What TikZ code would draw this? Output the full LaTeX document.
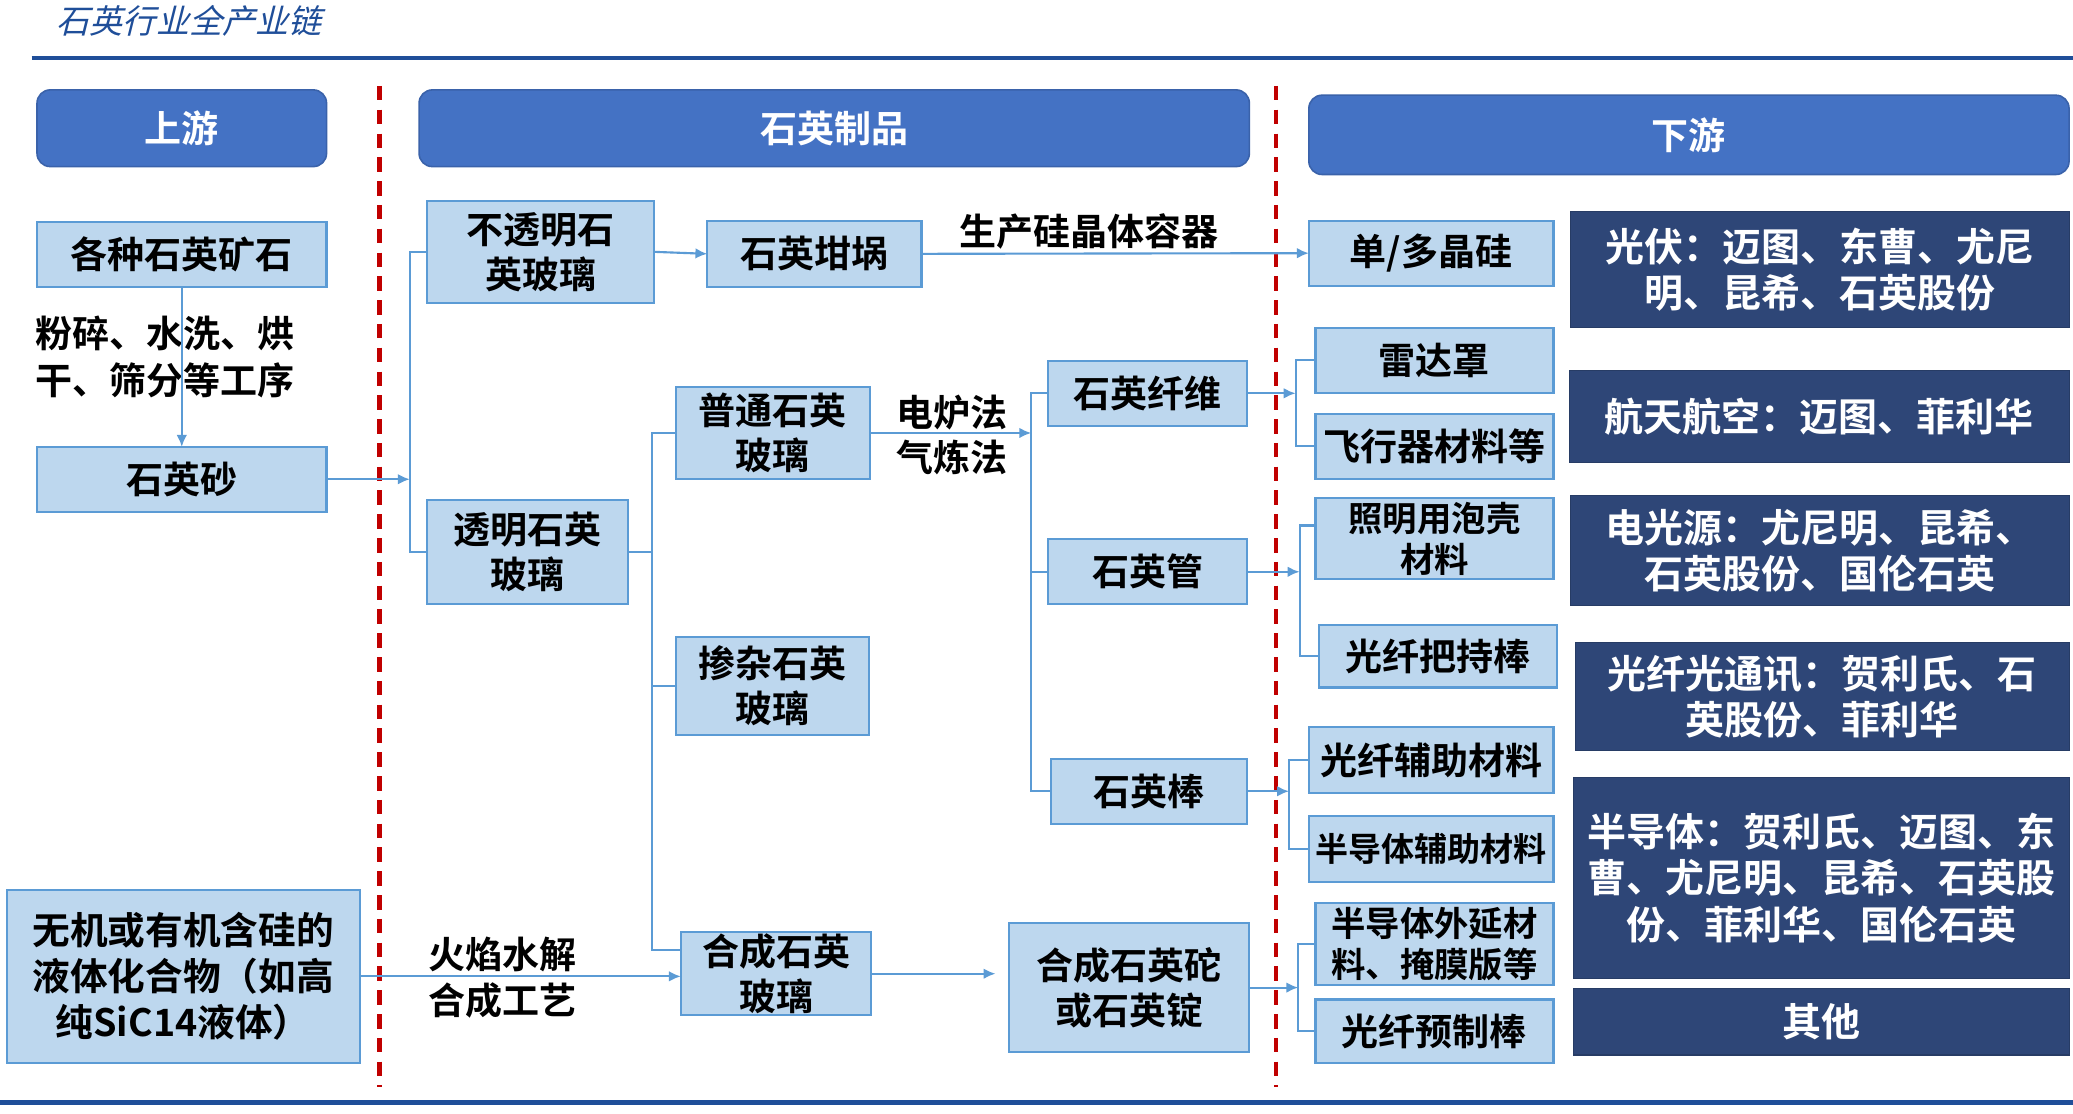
\documentclass[tikz,border=0pt]{standalone}
\usepackage{fontspec}
\setmainfont{Noto Sans CJK SC}[BoldFont={Noto Sans CJK SC Bold}]
\newfontfamily\titlefont{Noto Sans CJK SC}[FakeSlant=0.25]
\usetikzlibrary{arrows.meta}
\definecolor{hdr}{HTML}{4472C4}
\definecolor{hdrline}{HTML}{3A62AA}
\definecolor{boxfill}{HTML}{BDD7EE}
\definecolor{boxline}{HTML}{5B9BD5}
\definecolor{conncol}{HTML}{5B9BD5}
\definecolor{navy}{HTML}{2E4677}
\definecolor{sepred}{HTML}{C00000}
\definecolor{rule}{HTML}{1F4E99}
\definecolor{titleblue}{HTML}{1F4E99}
\begin{document}
\begin{tikzpicture}[x=1pt,y=-1pt,
  every node/.style={inner sep=0pt, outer sep=0pt},
  wh/.style 2 args={minimum width=#1pt, minimum height=#2pt},
  lbox/.style={draw=boxline, fill=boxfill, line width=1.6pt, align=center, font=\bfseries\fontsize{28}{34}\selectfont},
  nbox/.style={fill=navy, draw=navy!85!black, line width=0.8pt, text=white, align=center, font=\bfseries\fontsize{29.5}{35}\selectfont},
  hbox/.style={fill=hdr, draw=hdrline, line width=1.2pt, rounded corners=10pt, text=white, font=\bfseries\fontsize{28}{34}\selectfont},
  conn/.style={draw=conncol, line width=1.6pt},
  arr/.style={conn, -{Latex[length=9pt,width=8pt]}},
  lbl/.style={font=\bfseries\fontsize{28}{35}\selectfont, align=center},
  sepline/.style={draw=sepred, line width=3.2pt, dash pattern=on 11pt off 7pt}
]
\useasboundingbox[fill=white] (0,0) rectangle (1568,842);

% title and rules
\node[anchor=west, text=titleblue, font=\titlefont\fontsize{25}{28}\selectfont] (title) at (43,16) {石英行业全产业链};
\draw[rule, line width=3pt] (24,44) -- (1568,44);
\draw[rule, line width=4pt] (0,834) -- (1568,834);

% separators
\draw[sepline] (287,65) -- (287,822);
\draw[sepline] (965,65) -- (965,822);

% headers
\node[hbox, wh={219}{58}] (hUp) at (137.5,97) {上游};
\node[hbox, wh={628}{58}] (hMid) at (631,97) {石英制品};
\node[hbox, wh={575}{60}] (hDown) at (1277.5,102) {下游};

% upstream
\node[lbox, wh={219}{49}] (ore) at (137.5,192.5) {各种石英矿石};
\node[lbox, wh={219}{49}] (sand) at (137.5,362.5) {石英砂};
\node[lbox, wh={267}{131}, font=\bfseries\fontsize{28.5}{35}\selectfont] (liquid) at (138.5,738.5) {无机或有机含硅的\\液体化合物（如高\\纯SiC14液体）};
\node[lbl] (proc) at (125,270) {粉碎、水洗、烘\\干、筛分等工序};

% middle
\node[lbox, wh={172}{77}] (opaque) at (409,190.5) {不透明石\\英玻璃};
\node[lbox, wh={152}{79}] (transp) at (399,417.5) {透明石英\\玻璃};
\node[lbox, wh={162}{50}] (crucible) at (616,192) {石英坩埚};
\node[lbox, wh={147}{69}] (ordinary) at (584.5,327.5) {普通石英\\玻璃};
\node[lbox, wh={146}{74}] (doped) at (584,519) {掺杂石英\\玻璃};
\node[lbox, wh={144}{63}] (synth) at (587,736.5) {合成石英\\玻璃};
\node[lbox, wh={150}{49}] (fiber) at (868,297.5) {石英纤维};
\node[lbox, wh={150}{49}] (tube) at (868,432.5) {石英管};
\node[lbox, wh={148}{49}] (rod) at (869,598.5) {石英棒};
\node[lbox, wh={182}{98}] (ingot) at (854,747) {合成石英砣\\或石英锭};

% downstream boxes
\node[lbox, wh={185}{49}] (r1) at (1082.5,191.5) {单/多晶硅};
\node[lbox, wh={180}{49}] (r2) at (1085,272.5) {雷达罩};
\node[lbox, wh={180}{49}] (r3) at (1085,337.5) {飞行器材料等};
\node[lbox, wh={180}{61}, font=\bfseries\fontsize{26}{31}\selectfont] (r4) at (1085,407.5) {照明用泡壳\\材料};
\node[lbox, wh={180}{47}] (r5) at (1088,496.5) {光纤把持棒};
\node[lbox, wh={185}{50}] (r6) at (1082.5,575) {光纤辅助材料};
\node[lbox, wh={185}{50}, font=\bfseries\fontsize{25}{30}\selectfont] (r7) at (1082.5,642) {半导体辅助材料};
\node[lbox, wh={180}{62}, font=\bfseries\fontsize{26}{31}\selectfont] (r8) at (1085,714) {半导体外延材\\料、掩膜版等};
\node[lbox, wh={180}{48}] (r9) at (1085,780) {光纤预制棒};

% navy company boxes
\node[nbox, wh={377}{88}] (n1) at (1376.5,204) {光伏：迈图、东曹、尤尼\\明、昆希、石英股份};
\node[nbox, wh={378}{70}] (n2) at (1376,315) {航天航空：迈图、菲利华};
\node[nbox, wh={377}{83}] (n3) at (1376.5,416.5) {电光源：尤尼明、昆希、\\石英股份、国伦石英};
\node[nbox, wh={373}{82}] (n4) at (1378.5,527) {光纤光通讯：贺利氏、石\\英股份、菲利华};
\node[nbox, wh={375}{152}] (n5) at (1377.5,664) {半导体：贺利氏、迈图、东\\曹、尤尼明、昆希、石英股\\份、菲利华、国伦石英};
\node[nbox, wh={375}{50}] (n6) at (1377.5,773) {其他};

% labels on connectors
\node[lbl] (lblCru) at (824,175) {生产硅晶体容器};
\node[lbl] (lblEl) at (720,312) {电炉法};
\node[lbl] (lblGas) at (720,346) {气炼法};
\node[lbl] (lblFlame) at (380,739.5) {火焰水解\\合成工艺};

% bus coordinates
\coordinate (bus1) at (310,0);
\coordinate (bus2) at (493,0);
\coordinate (bus3) at (780,0);
\coordinate (bus4) at (980,0);
\coordinate (bus5) at (983,0);
\coordinate (bus6) at (975,0);
\coordinate (bus7) at (982,0);

% upstream connectors
\draw[arr] (ore.south) -- (sand.north);
\draw[arr] (sand.east) -- (sand.east -| bus1);
\draw[conn] (opaque.west) -- (opaque.west -| bus1) -- (transp.west -| bus1) -- (transp.west);
\draw[arr] (liquid.east) -- (liquid.east -| synth.west);

% middle connectors
\draw[arr] (opaque.east) -- (crucible.west);
\draw[arr] (crucible.east) -- (r1.west);
\draw[conn] (transp.east) -- (transp.east -| bus2);
\draw[conn] (ordinary.west) -- (ordinary.west -| bus2) -- ([yshift=18pt]synth.west -| bus2) -- ([yshift=18pt]synth.west);
\draw[conn] (doped.west) -- (doped.west -| bus2);
\draw[arr] (ordinary.east) -- (ordinary.east -| bus3);
\draw[conn] (fiber.west) -- (fiber.west -| bus3) -- (rod.west -| bus3) -- (rod.west);
\draw[conn] (tube.west) -- (tube.west -| bus3);
\draw[arr, shorten >=10pt] (synth.east) -- (synth.east -| ingot.west);

% downstream connectors
\draw[arr] (fiber.east) -- (fiber.east -| bus4);
\draw[conn] (r2.west) -- (r2.west -| bus4) -- (r3.west -| bus4) -- (r3.west);
\draw[arr] (tube.east) -- (tube.east -| bus5);
\draw[conn] ([yshift=10pt]r4.west) -- ([yshift=10pt]r4.west -| bus5) -- (r5.west -| bus5) -- (r5.west);
\draw[arr] (rod.east) -- (rod.east -| bus6);
\draw[conn] (r6.west) -- (r6.west -| bus6) -- (r7.west -| bus6) -- (r7.west);
\draw[arr] (ingot.east) -- (ingot.east -| bus7);
\draw[conn] (r8.west) -- (r8.west -| bus7) -- (r9.west -| bus7) -- (r9.west);
\end{tikzpicture}
\end{document}
